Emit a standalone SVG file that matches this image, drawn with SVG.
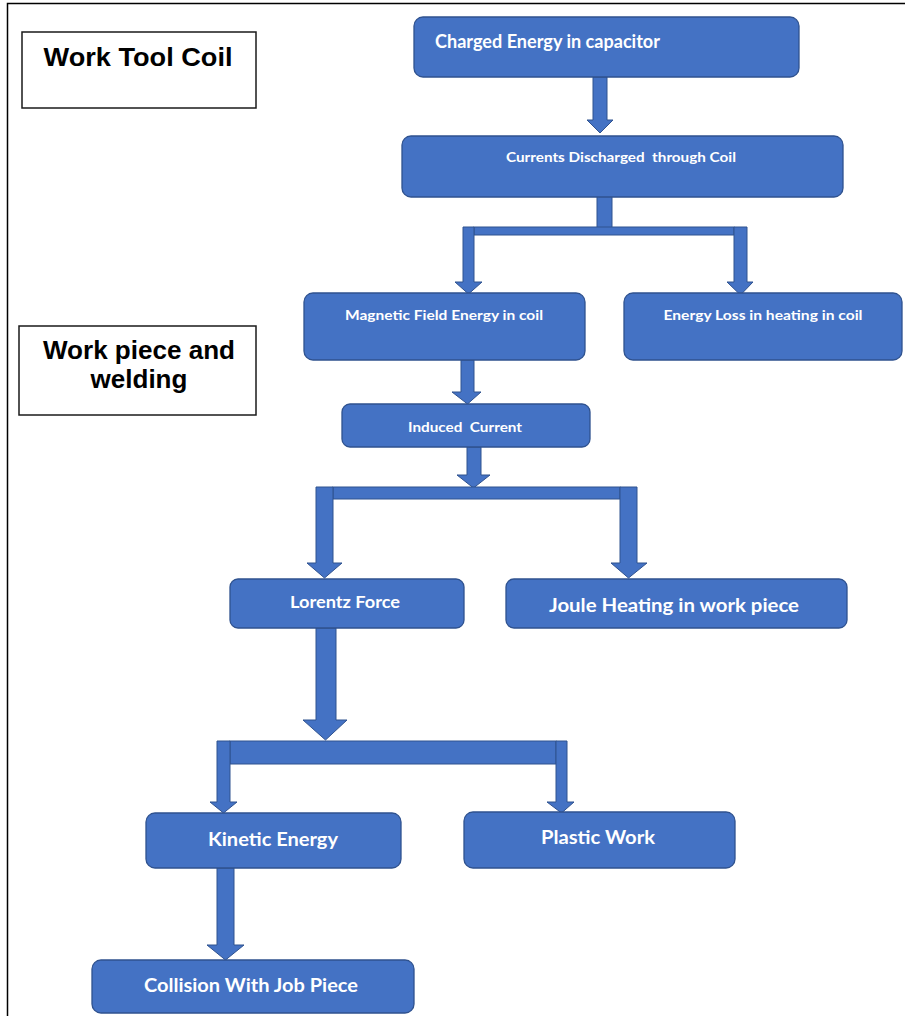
<svg xmlns="http://www.w3.org/2000/svg" width="905" height="1016" viewBox="0 0 905 1016">
<style>
.node rect{fill:#4472C4;stroke:#2F528F;stroke-width:1.3}
.node text{fill:#fff;font-family:Lato,"Open Sans","Liberation Sans",sans-serif;font-weight:bold;text-anchor:middle}
.lbl rect{fill:#fff;stroke:#1a1a1a;stroke-width:1.5}
.lbl text{fill:#000;font-family:"Liberation Sans",Arial,sans-serif;font-weight:bold;font-size:26px;text-anchor:middle}
#connectors *{fill:#4472C4;stroke:#2F528F;stroke-width:1}
</style>
<rect width="905" height="1016" fill="#fff"/>
<path d="M7.5,1016 V3.5 H905" fill="none" stroke="#000" stroke-width="1.5"/>

<g id="label-work-tool-coil" class="lbl">
<rect x="22" y="32" width="234" height="76"/>
<text x="138" y="66" textLength="189" lengthAdjust="spacingAndGlyphs">Work Tool Coil</text>
</g>
<g id="label-work-piece" class="lbl">
<rect x="19" y="326" width="237" height="89"/>
<text x="139" y="359" textLength="192" lengthAdjust="spacingAndGlyphs">Work piece and</text>
<text x="139" y="388">welding</text>
</g>

<g id="connectors">
<polygon points="593,77 607,77 607,120 613,120 600,133 587,120 593,120"/>
<rect x="597" y="196" width="15" height="32"/>
<rect x="474" y="227" width="260" height="8"/>
<polygon points="463,227 474,227 474,282 482,282 468.5,294 455,282 463,282"/>
<polygon points="734,227 747,227 747,282 753,282 740.5,295 727,282 734,282"/>
<polygon points="461,360 474,360 474,392 481,392 467.5,404 452,392 461,392"/>
<polygon points="467,447 481,447 481,475 490,475 473.5,488 457,475 467,475"/>
<rect x="333" y="487" width="287" height="12"/>
<polygon points="316,487 333,487 333,563 342,563 324.5,578 307,563 316,563"/>
<polygon points="620,487 637,487 637,563 647,563 628.5,578 611,563 620,563"/>
<polygon points="316,628 336,628 336,720 347,720 325.5,740 303,720 316,720"/>
<rect x="230" y="741" width="326" height="23"/>
<polygon points="217,741 230,741 230,802 237,802 223.5,813 210,802 217,802"/>
<polygon points="556,741 567,741 567,802 574,802 561.5,813 547,802 556,802"/>
<polygon points="217,868 234,868 234,945 244,945 225.5,960 207,945 217,945"/>
</g>

<g id="n-charged" class="node">
<rect x="414" y="17" width="385" height="60" rx="9"/>
<text x="435" y="48" font-size="18" style="text-anchor:start" textLength="225" lengthAdjust="spacingAndGlyphs">Charged Energy in capacitor</text>
</g>
<g id="n-currents" class="node">
<rect x="402" y="136" width="441" height="61" rx="9"/>
<text x="621" y="162" font-size="14" style="white-space:pre" textLength="230" lengthAdjust="spacingAndGlyphs">Currents Discharged  through Coil</text>
</g>
<g id="n-magnetic" class="node">
<rect x="304" y="293" width="281" height="67" rx="9"/>
<text x="444" y="320" font-size="14" textLength="198" lengthAdjust="spacingAndGlyphs">Magnetic Field Energy in coil</text>
</g>
<g id="n-loss" class="node">
<rect x="624" y="293" width="278" height="67" rx="9"/>
<text x="763" y="320" font-size="14" textLength="199" lengthAdjust="spacingAndGlyphs">Energy Loss in heating in coil</text>
</g>
<g id="n-induced" class="node">
<rect x="342" y="404" width="248" height="43" rx="8"/>
<text x="465" y="432" font-size="14" style="white-space:pre" textLength="114" lengthAdjust="spacingAndGlyphs">Induced  Current</text>
</g>
<g id="n-lorentz" class="node">
<rect x="230" y="579" width="234" height="49" rx="8"/>
<text x="345" y="608" font-size="17" textLength="110" lengthAdjust="spacingAndGlyphs">Lorentz Force</text>
</g>
<g id="n-joule" class="node">
<rect x="506" y="579" width="341" height="49" rx="8"/>
<text x="674" y="612" font-size="19" textLength="250" lengthAdjust="spacingAndGlyphs">Joule Heating in work piece</text>
</g>
<g id="n-kinetic" class="node">
<rect x="146" y="813" width="255" height="55" rx="9"/>
<text x="273" y="846" font-size="19" textLength="130" lengthAdjust="spacingAndGlyphs">Kinetic Energy</text>
</g>
<g id="n-plastic" class="node">
<rect x="464" y="812" width="271" height="56" rx="9"/>
<text x="598" y="844" font-size="19" textLength="114" lengthAdjust="spacingAndGlyphs">Plastic Work</text>
</g>
<g id="n-collision" class="node">
<rect x="92" y="960" width="322" height="53" rx="9"/>
<text x="251" y="992" font-size="19" textLength="214" lengthAdjust="spacingAndGlyphs">Collision With Job Piece</text>
</g>
</svg>
